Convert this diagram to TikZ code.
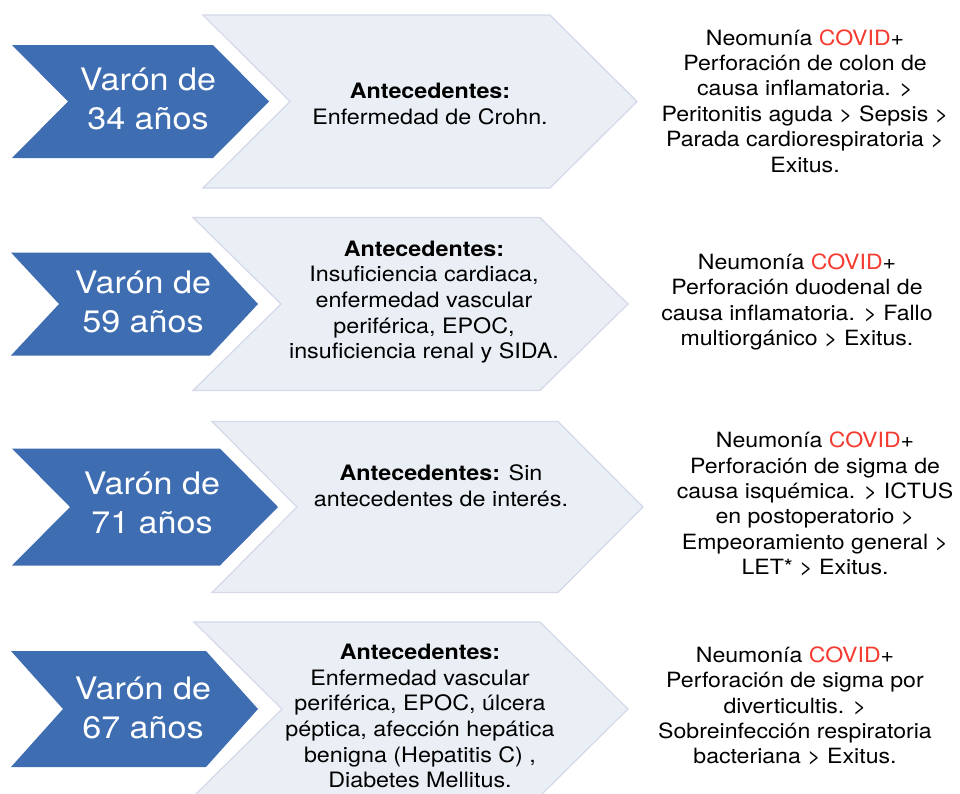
\documentclass[tikz,border=0pt]{standalone}
\usepackage{fontspec}
\setmainfont[FakeStretch=1.1]{TeX Gyre Heros}
\definecolor{agefill}{HTML}{3E6DB1}
\definecolor{histfill}{HTML}{E9EFF4}
\definecolor{histline}{HTML}{D4D8EA}
\definecolor{covidred}{HTML}{F53B2F}
\newcommand{\covidpos}{\textcolor{covidred}{COVID}+}

\begin{document}
\begin{tikzpicture}[x=1pt, y=-1pt,
  agebox/.style={fill=agefill, draw=none},
  histbox/.style={fill=histfill, draw=histline, line width=1.2pt, line join=miter},
  agetext/.style={text=white, align=center, inner sep=0pt, font=\fontsize{31}{39}\selectfont},
  histtext/.style={align=center, inner sep=0pt, font=\fontsize{21.2}{25.7}\selectfont},
  outtext/.style={align=center, inner sep=0pt, font=\fontsize{21}{25.4}\selectfont}]%
  \useasboundingbox (0,0) rectangle (960,793);
  % row centre / blue chevron / light chevron
  \foreach \cy/\bx/\bw/\bh/\bd/\lx/\lw/\lh/\ld in {
    101.5/12/201/56.5/56/203/347/86.5/87,
    304/11/199/51.5/48/193/347/86.5/88,
    507/12/208/58.5/58/212/346/85.5/85,
    709/11/195/58/52/194/346/87/88} {
    \draw[histbox]
    (\lx,{\cy-\lh})
    --
    ({\lx+\lw},{\cy-\lh})
    --
    ({\lx+\lw+\ld},\cy)
    --
    ({\lx+\lw},{\cy+\lh})
    --
    (\lx,{\cy+\lh})
    --
    ({\lx+\ld},\cy)
    -- cycle;
    \fill[agebox]
    (\bx,{\cy-\bh})
    --
    ({\bx+\bw},{\cy-\bh})
    --
    ({\bx+\bw+\bd},\cy)
    --
    ({\bx+\bw},{\cy+\bh})
    --
    (\bx,{\cy+\bh})
    --
    ({\bx+\bd},\cy)
    -- cycle;
  }
  \node[agetext] (age1) at (148,99) {Varón de\\34 años};
  \node[agetext] (age2) at (143,302) {Varón de\\59 años};
  \node[agetext] (age3) at (152,503) {Varón de\\71 años};
  \node[agetext] (age4) at (143,708) {Varón de\\67 años};
  \node[histtext] (hist1) at (430,104) {\textbf{Antecedentes:}\\Enfermedad de Crohn.};
  \node[histtext] (hist2) at (424,302) {\textbf{Antecedentes:}\\Insuficiencia cardiaca,\\enfermedad vascular\\periférica, EPOC,\\insuficiencia renal y SIDA.};
  \node[histtext] (hist3) at (441,486) {\textbf{Antecedentes:} Sin\\antecedentes de interés.};
  \node[histtext] (hist4) at (420,716) {\textbf{Antecedentes:}\\Enfermedad vascular\\periférica, EPOC, úlcera\\péptica, afección hepática\\benigna (Hepatitis C) ,\\Diabetes Mellitus.};
  \node[outtext] (out1) at (805,101) {Neomunía \covidpos\\Perforación de colon de\\causa inflamatoria. >\\Peritonitis aguda > Sepsis >\\Parada cardiorespiratoria >\\Exitus.};
  \node[outtext] (out2) at (797,302) {Neumonía \covidpos\\Perforación duodenal de\\causa inflamatoria. > Fallo\\multiorgánico > Exitus.};
  \node[outtext] (out3) at (815,504) {Neumonía \covidpos\\Perforación de sigma de\\causa isquémica. > ICTUS\\en postoperatorio >\\Empeoramiento general >\\LET* > Exitus.};
  \node[outtext] (out4) at (795,706) {Neumonía \covidpos\\Perforación de sigma por\\diverticultis. >\\Sobreinfección respiratoria\\bacteriana > Exitus.};
\end{tikzpicture}
\end{document}
